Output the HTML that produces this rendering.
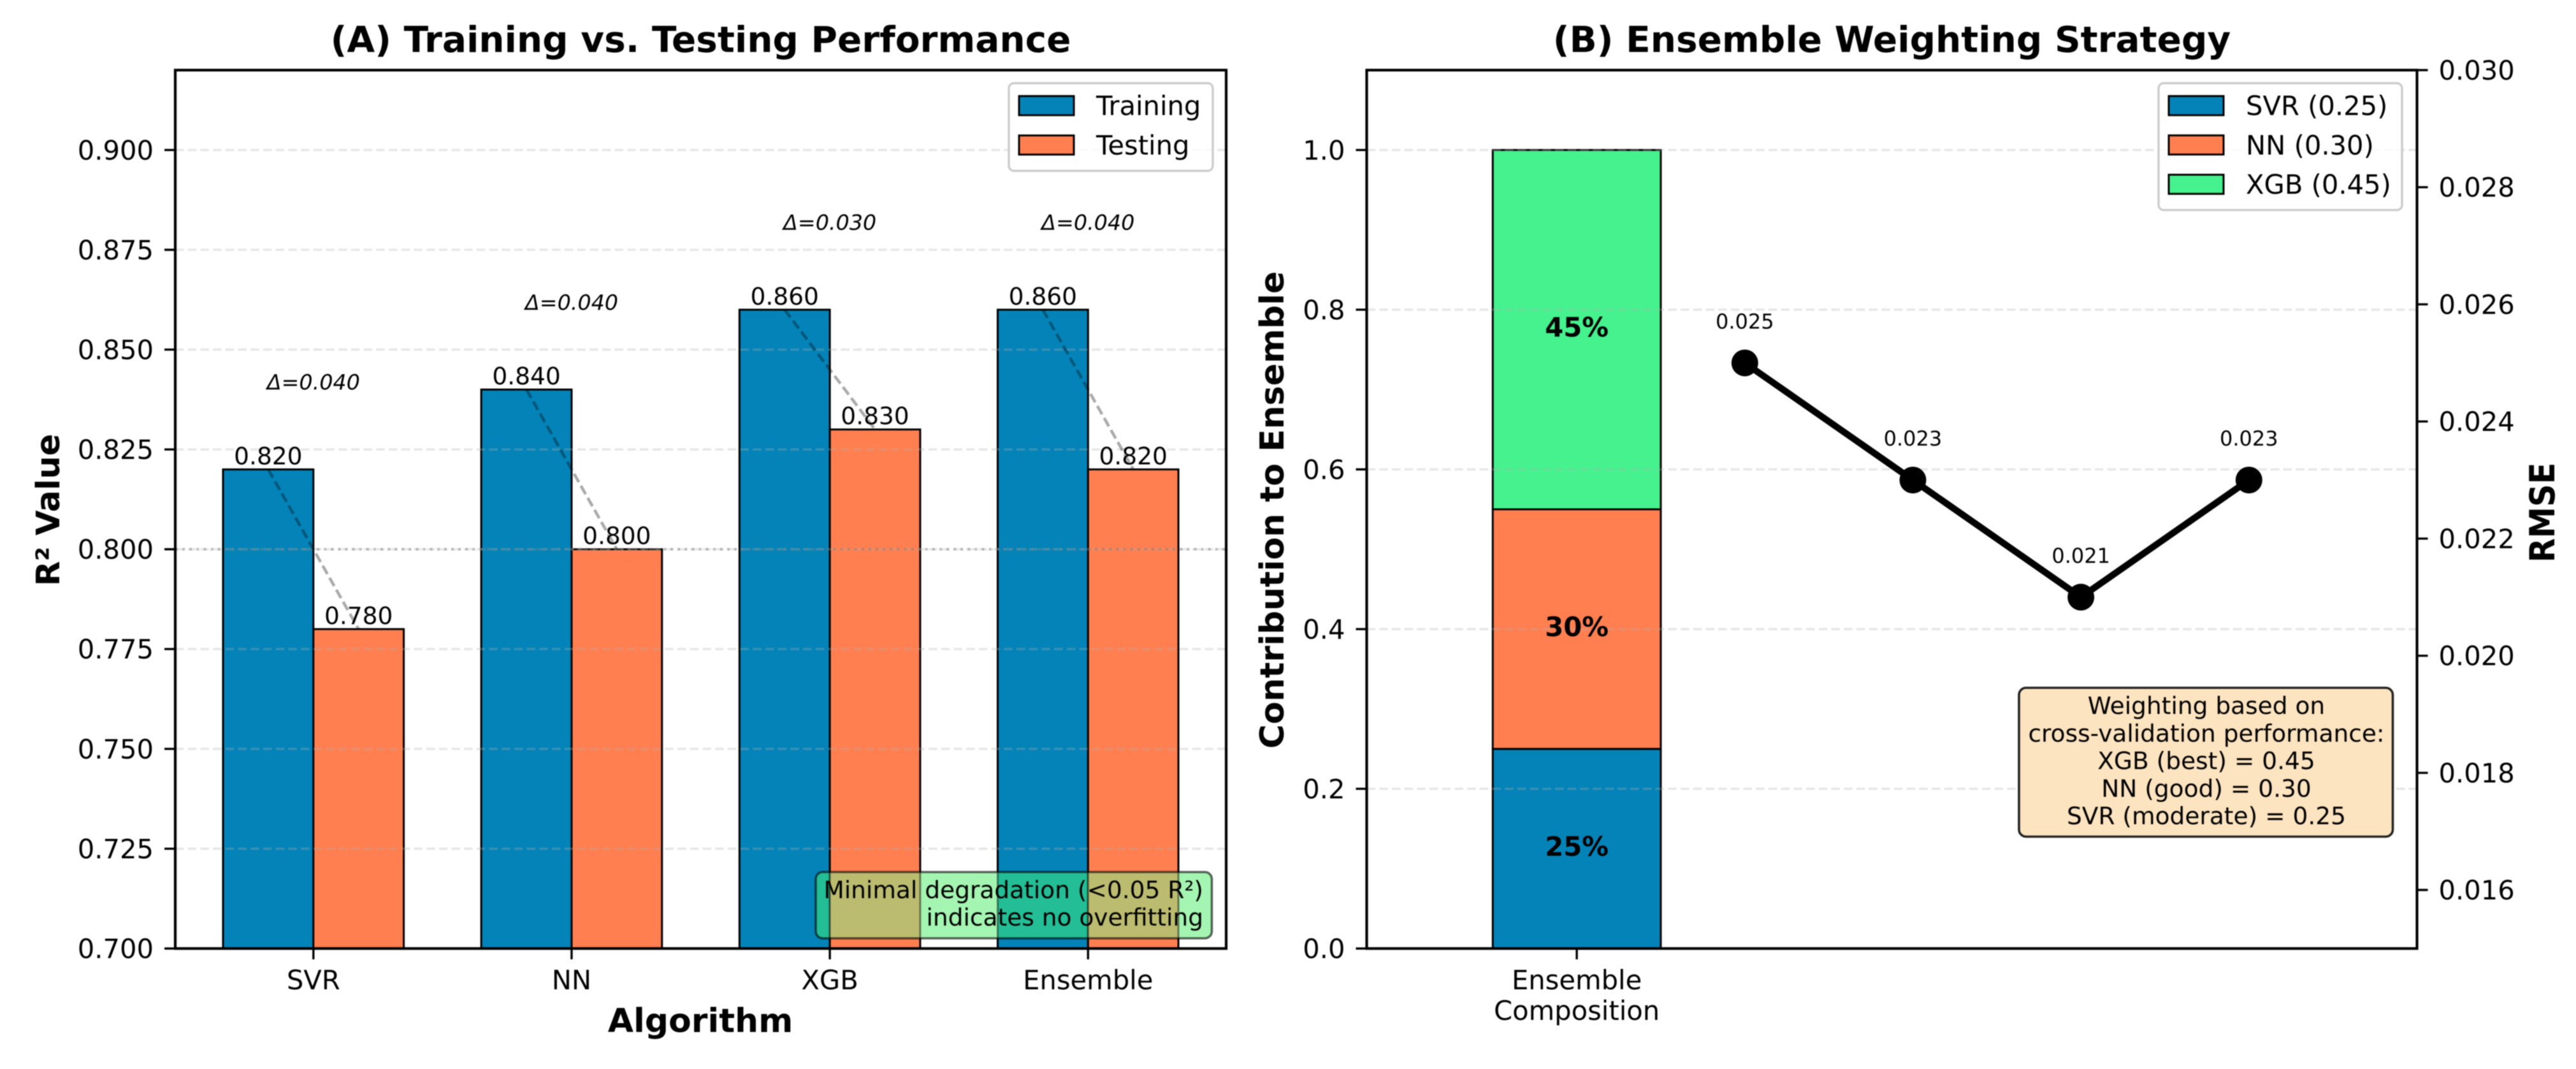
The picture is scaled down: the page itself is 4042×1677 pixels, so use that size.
<!DOCTYPE html>
<html lang="en">
<head>
<meta charset="utf-8">
<title>Training vs. Testing Performance and Ensemble Weighting Strategy</title>
<style>
  html, body { margin: 0; padding: 0; background: #fff; width: 4042px; height: 1677px; overflow: hidden; }
  svg { display: block; filter: blur(0.8px); }
  text { font-family: "DejaVu Sans", "Liberation Sans", sans-serif; fill: #000; }
  .bold { font-weight: 700; }
</style>
</head>
<body>
<svg id="figure" xmlns="http://www.w3.org/2000/svg" width="4042" height="1677" viewBox="0 0 4042 1677">
  <defs>
    <clipPath id="note-clip"><rect x="1280" y="1368" width="621.5" height="104" rx="11"/></clipPath>
  </defs>
  <rect x="0" y="0" width="4042" height="1677" fill="#ffffff"/>
  <g id="panel-a"></g>
  <g id="panel-b"></g>
  <text class="bold" x="1099.5" y="81.5" font-size="56.5" text-anchor="middle">(A) Training vs. Testing Performance</text>
  <text class="bold" x="2968.5" y="81.5" font-size="56.5" text-anchor="middle">(B) Ensemble Weighting Strategy</text>
  <text class="bold" x="1099" y="1619" font-size="52" text-anchor="middle">Algorithm</text>
  <text class="bold" transform="translate(93 800) rotate(-90)" font-size="51" text-anchor="middle">R² Value</text>
  <text class="bold" transform="translate(2014 800) rotate(-90)" font-size="52" text-anchor="middle">Contribution to Ensemble</text>
  <text class="bold" transform="translate(4008 804) rotate(-90) scale(1 1.1)" font-size="49.5" text-anchor="middle">RMSE</text>
</svg>
<script>
// ---- Panel A data ----
const categories = ["SVR", "NN", "XGB", "Ensemble"];
const trainingValues = [0.82, 0.84, 0.86, 0.86];
const testingValues = [0.78, 0.80, 0.83, 0.82];
const r2TickValues = [0.7, 0.725, 0.75, 0.775, 0.8, 0.825, 0.85, 0.875, 0.9];
const r2TickLabels = ["0.700", "0.725", "0.750", "0.775", "0.800", "0.825", "0.850", "0.875", "0.900"];
const r2Limits = [0.7, 0.92];
const referenceR2 = 0.8;
const deltaLabelGap = 0.02;

// ---- Panel B data ----
const weightNames = ["SVR", "NN", "XGB"];
const weightValues = [0.25, 0.30, 0.45];
const weightPercentLabels = ["25%", "30%", "45%"];
const weightLegendLabels = ["SVR (0.25)", "NN (0.30)", "XGB (0.45)"];
const contributionTickValues = [0, 0.2, 0.4, 0.6, 0.8, 1.0];
const contributionTickLabels = ["0.0", "0.2", "0.4", "0.6", "0.8", "1.0"];
const contributionLimits = [0, 1.1];
const rmsePositions = [1, 2, 3, 4];
const rmseValues = [0.025, 0.023, 0.021, 0.023];
const rmseValueLabels = ["0.025", "0.023", "0.021", "0.023"];
const rmseTickValues = [0.016, 0.018, 0.020, 0.022, 0.024, 0.026, 0.028, 0.030];
const rmseTickLabels = ["0.016", "0.018", "0.020", "0.022", "0.024", "0.026", "0.028", "0.030"];
const rmseLimits = [0.015, 0.030];

// ---- Style ----
const BLUE = "#0383b8";
const ORANGE = "#ff7f50";
const GREEN = "#45f28e";
const NOTE_ON_WHITE = "#a5f5b2";
const NOTE_ON_BLUE = "#24be96";
const NOTE_ON_ORANGE = "#bcbc70";
const weightColors = [BLUE, ORANGE, GREEN];
const SVG_NS = "http://www.w3.org/2000/svg";

// ---- Axes geometry ----
const TOP = 110, BOTTOM = 1488;
const A_LEFT = 275, A_RIGHT = 1924;
const B_LEFT = 2144.5, B_RIGHT = 3792.5;
const BAR_WIDTH_A = 0.35;
const xDomainA = [-0.535, 3.535];
const xDomainB = [-1.25, 5];

function linear(domain, range) {
  return function (v) {
    return range[0] + (v - domain[0]) / (domain[1] - domain[0]) * (range[1] - range[0]);
  };
}
const xA = linear(xDomainA, [A_LEFT, A_RIGHT]);
const yA = linear(r2Limits, [BOTTOM, TOP]);
const xB = linear(xDomainB, [B_LEFT, B_RIGHT]);
const yB = linear(contributionLimits, [BOTTOM, TOP]);
const yRmse = linear(rmseLimits, [BOTTOM, TOP]);

function make(tag, attrs, parent, content) {
  const node = document.createElementNS(SVG_NS, tag);
  for (const key in attrs) node.setAttribute(key, attrs[key]);
  if (content !== undefined) node.textContent = content;
  parent.appendChild(node);
  return node;
}

function drawGrid(parent, values, scale, left, right, prefix) {
  values.forEach(function (v) {
    const line = make("line", { x1: left, x2: right, y1: scale(v), y2: scale(v), stroke: "#b0b0b0", "stroke-opacity": 0.3, "stroke-width": 3.6, "stroke-dasharray": "13.5 6.2" }, parent);
    
    
  });
}

function drawFrame(parent, left, right, prefix) {
  const frame = make("rect", { x: left, y: TOP, width: right - left, height: BOTTOM - TOP, fill: "none", stroke: "#000", "stroke-width": 4.2 }, parent);
  
  
}

function drawYTicks(parent, values, labels, scale, axisX, side, prefix) {
  values.forEach(function (v, i) {
    const y = scale(v);
    const mark = make("line", { x1: axisX, x2: axisX + side * 17, y1: y, y2: y, stroke: "#000", "stroke-width": 3.4 }, parent);
    
    
    const label = make("text", { x: axisX + side * 34, y: y + 15, "font-size": 41.67, "text-anchor": side < 0 ? "end" : "start" }, parent, labels[i]);
    
    
  });
}

function drawLegendEntry(parent, x, textX, bottom, color, labelText, name) {
  const swatch = make("rect", { x: x, y: bottom - 30, width: 86, height: 30, fill: color, stroke: "#000", "stroke-width": 3 }, parent);
  
  
  const label = make("text", { x: textX, y: bottom, "font-size": 41.67 }, parent, labelText);
  
  
}

// ---- Panel A ----
const panelA = document.getElementById("panel-a");
const baseA = yA(r2Limits[0]);

categories.forEach(function (cat, i) {
  const trainX = xA(i - BAR_WIDTH_A);
  const testX = xA(i);
  const barW = xA(BAR_WIDTH_A) - xA(0);
  const trainBar = make("rect", { x: trainX, y: yA(trainingValues[i]), width: barW, height: baseA - yA(trainingValues[i]), fill: BLUE, stroke: "#000", "stroke-width": 3 }, panelA);
  
  
  const testBar = make("rect", { x: testX, y: yA(testingValues[i]), width: barW, height: baseA - yA(testingValues[i]), fill: ORANGE, stroke: "#000", "stroke-width": 3 }, panelA);
  
  
});

drawGrid(panelA, r2TickValues, yA, A_LEFT, A_RIGHT, 'panel-a');

const refLine = make("line", { x1: A_LEFT, x2: A_RIGHT, y1: yA(referenceR2), y2: yA(referenceR2), stroke: "#808080", "stroke-opacity": 0.5, "stroke-width": 4, "stroke-dasharray": "4.2 6.9" }, panelA);



categories.forEach(function (cat, i) {
  const x1 = xA(i - BAR_WIDTH_A / 2), x2 = xA(i + BAR_WIDTH_A / 2);
  const link = make("line", { x1: x1, x2: x2, y1: yA(trainingValues[i]), y2: yA(testingValues[i]), stroke: "#000", "stroke-opacity": 0.33, "stroke-width": 4.6, "stroke-dasharray": "15 6.7" }, panelA);
  
  

  const trainLabel = make("text", { x: x1, y: yA(trainingValues[i]) - 8, "font-size": 37.5, "text-anchor": "middle" }, panelA, trainingValues[i].toFixed(3));
  
  
  const testLabel = make("text", { x: x2, y: yA(testingValues[i]) - 8, "font-size": 37.5, "text-anchor": "middle" }, panelA, testingValues[i].toFixed(3));
  
  

  const topValue = Math.max(trainingValues[i], testingValues[i]);
  const deltaLabel = make("text", { x: xA(i), y: yA(topValue + deltaLabelGap), "font-size": 33.33, "font-style": "italic", "text-anchor": "middle" }, panelA, "Δ=" + (trainingValues[i] - testingValues[i]).toFixed(3));
  
  

  const tick = make("line", { x1: xA(i), x2: xA(i), y1: BOTTOM, y2: BOTTOM + 17, stroke: "#000", "stroke-width": 3.4 }, panelA);
  
  
  const tickLabel = make("text", { x: xA(i), y: 1552, "font-size": 41.67, "text-anchor": "middle" }, panelA, cat);
  
  
});

drawYTicks(panelA, r2TickValues, r2TickLabels, yA, A_LEFT, -1, 'panel-a-y');

// Note box: translucent green, tinted per backdrop so it reads the same over each bar
const noteFill = make("g", { "clip-path": "url(#note-clip)" }, panelA);


const noteBase = make("rect", { x: 1280, y: 1368, width: 621.5, height: 104, fill: NOTE_ON_WHITE }, noteFill);


categories.forEach(function (cat, i) {
  const barW = xA(BAR_WIDTH_A) - xA(0);
  const tintTrain = make("rect", { x: xA(i - BAR_WIDTH_A), y: yA(trainingValues[i]), width: barW, height: baseA - yA(trainingValues[i]), fill: NOTE_ON_BLUE, stroke: "#000", "stroke-opacity": 0.45, "stroke-width": 3 }, noteFill);
  
  
  const tintTest = make("rect", { x: xA(i), y: yA(testingValues[i]), width: barW, height: baseA - yA(testingValues[i]), fill: NOTE_ON_ORANGE, stroke: "#000", "stroke-opacity": 0.45, "stroke-width": 3 }, noteFill);
  
  
});
const noteBoxA = make("rect", { x: 1280, y: 1368, width: 621.5, height: 104, rx: 11, fill: "none", stroke: "#000", "stroke-opacity": 0.6, "stroke-width": 3.6 }, panelA);


const noteLine1 = make("text", { x: 1888, y: 1409, "font-size": 37.5, "text-anchor": "end" }, panelA, "Minimal degradation (<0.05 R²)");


const noteLine2 = make("text", { x: 1888, y: 1452, "font-size": 37.5, "text-anchor": "end" }, panelA, "indicates no overfitting");



drawFrame(panelA, A_LEFT, A_RIGHT, 'panel-a');

const legendBoxA = make("rect", { x: 1583, y: 130.5, width: 320, height: 137.5, rx: 8, fill: "#fff", "fill-opacity": 0.8, stroke: "#cccccc", "stroke-width": 3.4 }, panelA);


drawLegendEntry(panelA, 1599, 1720, 180.7, BLUE, "Training", 'legend-entry-training');
drawLegendEntry(panelA, 1599, 1720, 242.5, ORANGE, "Testing", 'legend-entry-testing');

// ---- Panel B ----
const panelB = document.getElementById("panel-b");
const barLeftB = xB(-0.5), barWidthB = xB(0.5) - xB(-0.5);
let stackBase = 0;
const stackCenters = [];
weightValues.forEach(function (w, i) {
  const segment = make("rect", { x: barLeftB, y: yB(stackBase + w), width: barWidthB, height: yB(stackBase) - yB(stackBase + w), fill: weightColors[i], stroke: "#000", "stroke-width": 3 }, panelB);
  
  
  stackCenters.push(stackBase + w / 2);
  stackBase += w;
});

drawGrid(panelB, contributionTickValues, yB, B_LEFT, B_RIGHT, 'panel-b');

weightValues.forEach(function (w, i) {
  const percent = make("text", { x: xB(0), y: yB(stackCenters[i]) + 11, "font-size": 41.67, "font-weight": 700, "text-anchor": "middle" }, panelB, weightPercentLabels[i]);
  
  
});

const rmsePath = rmsePositions.map(function (p, i) {
  return (i ? "L" : "M") + xB(p) + " " + yRmse(rmseValues[i]);
}).join(" ");
const rmseLine = make("path", { d: rmsePath, fill: "none", stroke: "#000", "stroke-width": 10.4, "stroke-linejoin": "round" }, panelB);



rmsePositions.forEach(function (p, i) {
  const point = make("circle", { cx: xB(p), cy: yRmse(rmseValues[i]), r: 21, fill: "#000" }, panelB);
  
  
  const valueLabel = make("text", { x: xB(p), y: yRmse(rmseValues[i]) - 54, "font-size": 32, "text-anchor": "middle" }, panelB, rmseValueLabels[i]);
  
  
});

drawYTicks(panelB, contributionTickValues, contributionTickLabels, yB, B_LEFT, -1, 'panel-b-left-y');
drawYTicks(panelB, rmseTickValues, rmseTickLabels, yRmse, B_RIGHT, 1, 'panel-b-right-y');

const tickB = make("line", { x1: xB(0), x2: xB(0), y1: BOTTOM, y2: BOTTOM + 17, stroke: "#000", "stroke-width": 3.4 }, panelB);


const tickLabelB1 = make("text", { x: xB(0), y: 1552, "font-size": 41.67, "text-anchor": "middle" }, panelB, "Ensemble");


const tickLabelB2 = make("text", { x: xB(0), y: 1600, "font-size": 41.67, "text-anchor": "middle" }, panelB, "Composition");



const noteBoxB = make("rect", { x: 3168, y: 1079, width: 586.5, height: 233.5, rx: 11, fill: "#fde4c0", stroke: "#222", "stroke-width": 3.6 }, panelB);


const noteLinesB = ["Weighting based on", "cross-validation performance:", "XGB (best) = 0.45", "NN (good) = 0.30", "SVR (moderate) = 0.25"];
noteLinesB.forEach(function (lineText, i) {
  const noteLine = make("text", { x: 3462, y: 1120 + i * 43.3, "font-size": 37.5, "text-anchor": "middle" }, panelB, lineText);
  
  
});

drawFrame(panelB, B_LEFT, B_RIGHT, 'panel-b');

const legendBoxB = make("rect", { x: 3387, y: 130.5, width: 382, height: 199, rx: 8, fill: "#fff", "fill-opacity": 0.8, stroke: "#cccccc", "stroke-width": 3.4 }, panelB);


weightLegendLabels.forEach(function (labelText, i) {
  drawLegendEntry(panelB, 3403, 3524, 180.7 + i * 61.7, weightColors[i], labelText, 'legend-entry-' + weightNames[i].toLowerCase());
});
</script>
</body>
</html>
